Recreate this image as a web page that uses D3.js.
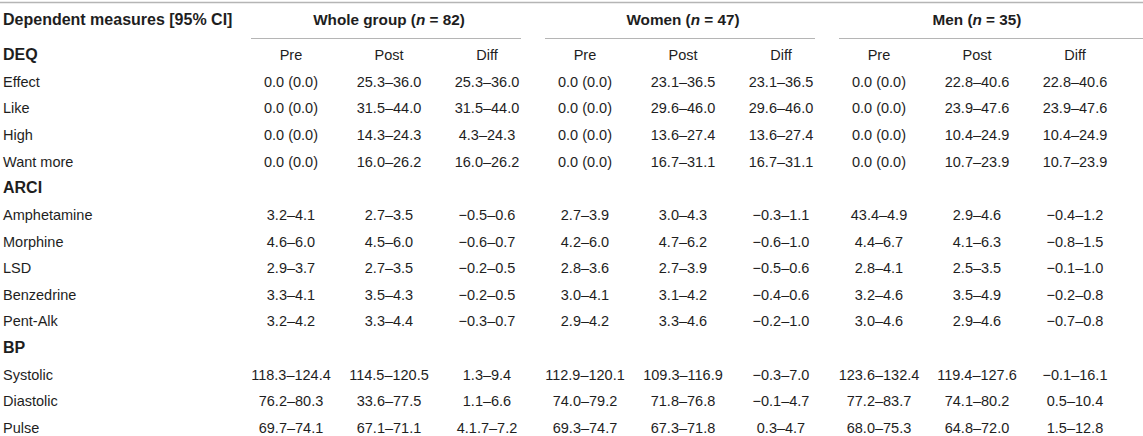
<!DOCTYPE html>
<html>
<head>
<meta charset="utf-8">
<script src="https://cdn.jsdelivr.net/npm/d3@7"></script>
<style>
  html, body { margin: 0; padding: 0; background: #fff; }
  svg { display: block; font-family: "Liberation Sans", Arial, Helvetica, sans-serif; }
</style>
</head>
<body>
<div id="chart"></div>
<script>
// Table data
var stubTitle = 'Dependent measures [95% CI]';
var groups = ['Whole group', 'Women', 'Men'];
var groupN = [82, 47, 35];
var phases = ['Pre', 'Post', 'Diff'];

var sections = ['DEQ', 'ARCI', 'BP'];

var deqMeasures = ['Effect', 'Like', 'High', 'Want more'];
var deqValues = [
  ['0.0 (0.0)', '25.3–36.0', '25.3–36.0', '0.0 (0.0)', '23.1–36.5', '23.1–36.5', '0.0 (0.0)', '22.8–40.6', '22.8–40.6'],
  ['0.0 (0.0)', '31.5–44.0', '31.5–44.0', '0.0 (0.0)', '29.6–46.0', '29.6–46.0', '0.0 (0.0)', '23.9–47.6', '23.9–47.6'],
  ['0.0 (0.0)', '14.3–24.3', '4.3–24.3', '0.0 (0.0)', '13.6–27.4', '13.6–27.4', '0.0 (0.0)', '10.4–24.9', '10.4–24.9'],
  ['0.0 (0.0)', '16.0–26.2', '16.0–26.2', '0.0 (0.0)', '16.7–31.1', '16.7–31.1', '0.0 (0.0)', '10.7–23.9', '10.7–23.9']
];

var arciMeasures = ['Amphetamine', 'Morphine', 'LSD', 'Benzedrine', 'Pent-Alk'];
var arciValues = [
  ['3.2–4.1', '2.7–3.5', '−0.5–0.6', '2.7–3.9', '3.0–4.3', '−0.3–1.1', '43.4–4.9', '2.9–4.6', '−0.4–1.2'],
  ['4.6–6.0', '4.5–6.0', '−0.6–0.7', '4.2–6.0', '4.7–6.2', '−0.6–1.0', '4.4–6.7', '4.1–6.3', '−0.8–1.5'],
  ['2.9–3.7', '2.7–3.5', '−0.2–0.5', '2.8–3.6', '2.7–3.9', '−0.5–0.6', '2.8–4.1', '2.5–3.5', '−0.1–1.0'],
  ['3.3–4.1', '3.5–4.3', '−0.2–0.5', '3.0–4.1', '3.1–4.2', '−0.4–0.6', '3.2–4.6', '3.5–4.9', '−0.2–0.8'],
  ['3.2–4.2', '3.3–4.4', '−0.3–0.7', '2.9–4.2', '3.3–4.6', '−0.2–1.0', '3.0–4.6', '2.9–4.6', '−0.7–0.8']
];

var bpMeasures = ['Systolic', 'Diastolic', 'Pulse'];
var bpValues = [
  ['118.3–124.4', '114.5–120.5', '1.3–9.4', '112.9–120.1', '109.3–116.9', '−0.3–7.0', '123.6–132.4', '119.4–127.6', '−0.1–16.1'],
  ['76.2–80.3', '33.6–77.5', '1.1–6.6', '74.0–79.2', '71.8–76.8', '−0.1–4.7', '77.2–83.7', '74.1–80.2', '0.5–10.4'],
  ['69.7–74.1', '67.1–71.1', '4.1.7–7.2', '69.3–74.7', '67.3–71.8', '0.3–4.7', '68.0–75.3', '64.8–72.0', '1.5–12.8']
];

(function () {
  'use strict';

  var W = 1143, H = 436;
  var textColor = '#1e1e1e';
  var ruleColor = '#b5b5b5';
  var ruleLeftPad = 40, ruleRightPad = 34;

  // Build row list: section heading followed by its measures
  var rows = [];
  [[deqMeasures, deqValues], [arciMeasures, arciValues], [bpMeasures, bpValues]].forEach(function (pair, si) {
    rows.push({ label: sections[si], head: true, values: null });
    pair[0].forEach(function (m, i) {
      rows.push({ label: m, head: false, values: pair[1][i] });
    });
  });

  // One key per data column (group x phase)
  var colKeys = [];
  groups.forEach(function (g) {
    phases.forEach(function (p) { colKeys.push(g + '|' + p); });
  });

  var svg = d3.select('#chart').append('svg')
    .attr('width', W).attr('height', H);

  // Scales
  var y = d3.scaleLinear().domain([0, rows.length - 1]).range([55, 428]);
  var x = d3.scalePoint().domain(colKeys).range([291, 1075]);

  function colX(gi, pi) { return x(groups[gi] + '|' + phases[pi]); }

  // Top rule
  svg.append('line')
    .attr('x1', 0).attr('x2', W).attr('y1', 2.5).attr('y2', 2.5)
    .attr('stroke', ruleColor).attr('stroke-width', 1.5);

  // Rules under group headings
  svg.selectAll('.group-rule')
    .data(groups)
    .enter().append('line')
    .attr('class', 'group-rule')
    .attr('x1', function (d, gi) { return colX(gi, 0) - ruleLeftPad; })
    .attr('x2', function (d, gi) { return gi === groups.length - 1 ? W : colX(gi, 2) + ruleRightPad; })
    .attr('y1', 38.5).attr('y2', 38.5)
    .attr('stroke', ruleColor).attr('stroke-width', 1.2);

  // Header row
  svg.append('text')
    .attr('x', 3).attr('y', 24.5)
    .attr('fill', textColor)
    .style('font-size', '16px').style('font-weight', 'bold')
    .text(stubTitle);

  var gh = svg.selectAll('.group-head')
    .data(groups)
    .enter().append('text')
    .attr('class', 'group-head')
    .attr('x', function (d, gi) { return colX(gi, 1); })
    .attr('y', 24.5)
    .attr('text-anchor', 'middle')
    .attr('fill', textColor)
    .style('font-size', '15.3px').style('font-weight', 'bold');
  gh.append('tspan').text(function (d) { return d + ' ('; });
  gh.append('tspan').style('font-style', 'italic').text('n');
  gh.append('tspan').text(function (d, i) { return ' = ' + groupN[i] + ')'; });

  // Phase sub-headers, on the first section row
  groups.forEach(function (g, gi) {
    svg.selectAll('.phase-' + gi)
      .data(phases)
      .enter().append('text')
      .attr('class', 'phase-' + gi)
      .attr('x', function (d, pi) { return colX(gi, pi); })
      .attr('y', y(0) + 5)
      .attr('text-anchor', 'middle')
      .attr('fill', textColor)
      .style('font-size', '14.5px')
      .text(function (d) { return d; });
  });

  // Row labels
  svg.selectAll('.row-label')
    .data(rows)
    .enter().append('text')
    .attr('class', 'row-label')
    .attr('x', 3)
    .attr('y', function (d, i) { return y(i) + 5; })
    .attr('fill', textColor)
    .style('font-size', function (d) { return d.head ? '16px' : '14.5px'; })
    .style('font-weight', function (d) { return d.head ? 'bold' : 'normal'; })
    .text(function (d) { return d.label; });

  // Cells
  var cells = [];
  rows.forEach(function (r, ri) {
    if (!r.values) return;
    r.values.forEach(function (v, ci) {
      cells.push({ row: ri, gi: Math.floor(ci / 3), pi: ci % 3, value: v });
    });
  });

  svg.selectAll('.cell')
    .data(cells)
    .enter().append('text')
    .attr('class', 'cell')
    .attr('x', function (d) { return colX(d.gi, d.pi); })
    .attr('y', function (d) { return y(d.row) + 5; })
    .attr('text-anchor', 'middle')
    .attr('fill', textColor)
    .style('font-size', '14.5px')
    .text(function (d) { return d.value; });
})();
</script>
</body>
</html>
